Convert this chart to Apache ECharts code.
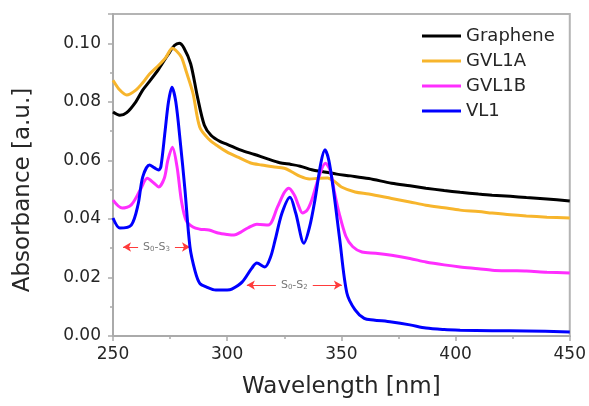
<!DOCTYPE html>
<html>
<head>
<meta charset="utf-8">
<script src="https://cdn.jsdelivr.net/npm/echarts@6/dist/echarts.min.js"></script>
<style>
  html, body { margin: 0; padding: 0; background: #fff; }
  #main { width: 589px; height: 406px; }
</style>
</head>
<body>
<div id="main"></div>
<script>
// 数据
const grapheneX = [250,253,256,260,263,266,270,274,277,279,281,284,287,290,293,297,300,306,312,318,323,328,332,337,342,348,354,362,372,380,387,395,402,410,416,424,431,440,450];
const grapheneY = [0.0765,0.0754,0.0763,0.0800,0.0840,0.0870,0.0912,0.0960,0.0993,0.1000,0.0985,0.0930,0.0816,0.0720,0.0685,0.0664,0.0655,0.0635,0.0620,0.0604,0.0592,0.0586,0.0580,0.0568,0.0561,0.0553,0.0547,0.0538,0.0522,0.0513,0.0505,0.0497,0.0491,0.0485,0.0481,0.0477,0.0473,0.0468,0.0461];

const gvl1aX = [250,253,256,260,263,266,270,273,276,278,280,282,285,288,292,296,300,305,310,315,320,325,328,332,336,340,344,347,350,356,362,372,380,387,395,402,410,416,424,431,440,450];
const gvl1aY = [0.0874,0.0840,0.0823,0.0840,0.0865,0.0895,0.0925,0.0950,0.0983,0.0972,0.0952,0.0905,0.0830,0.0713,0.0672,0.0648,0.0628,0.0610,0.0592,0.0584,0.0578,0.0573,0.0562,0.0545,0.0536,0.0539,0.0540,0.0528,0.0509,0.0492,0.0485,0.0470,0.0458,0.0447,0.0438,0.0430,0.0425,0.0420,0.0414,0.0410,0.0406,0.0403];

const gvl1bX = [250,254,258,262,265,268,270,272.5,274,276,278,280,282,285,288,292,296,300,303,306,309,313,318,322,325,327,329.5,331,333,335,337,340,343,345,347,349,352,355,359,365,372,380,387,395,402,410,416,424,431,440,450];
const gvl1bY = [0.0464,0.0437,0.0448,0.0500,0.0539,0.0522,0.0509,0.0540,0.0600,0.0645,0.0580,0.0460,0.0395,0.0372,0.0365,0.0362,0.0352,0.0347,0.0345,0.0355,0.0369,0.0382,0.0379,0.0440,0.0490,0.0505,0.0480,0.0450,0.0420,0.0430,0.0464,0.0540,0.0590,0.0567,0.0490,0.0420,0.0340,0.0305,0.0287,0.0283,0.0276,0.0265,0.0253,0.0243,0.0236,0.0230,0.0225,0.0223,0.0222,0.0218,0.0215];

const vl1X = [250,253,258,261,263,266,268,270,271,272.8,274.3,275.8,277.5,279.5,281.5,283.7,286,288,291,295,300,302,306.5,310.8,313,316.5,319,321,324,327.5,330,333.6,336,338.4,341,342.8,344.5,346.5,349.3,352.4,356,360,364,372,380,387,395,402,416,431,450];
const vl1Y = [0.0403,0.0369,0.0379,0.0450,0.0543,0.0584,0.0575,0.0567,0.0580,0.0700,0.0800,0.0850,0.0800,0.0660,0.0500,0.0304,0.0220,0.0180,0.0167,0.0157,0.0157,0.0160,0.0184,0.0232,0.0249,0.0236,0.0270,0.0328,0.0420,0.0474,0.0420,0.0317,0.0370,0.0464,0.0590,0.0636,0.0600,0.0500,0.0328,0.0147,0.0089,0.0060,0.0055,0.0048,0.0038,0.0027,0.0022,0.0020,0.0018,0.0017,0.0014];

const seriesNames = ['Graphene', 'GVL1A', 'GVL1B', 'VL1'];
const seriesColors = ['#000000', '#f7b52c', '#ff2eff', '#0000ff'];

// 跃迁标注：[起点, 终点], 高度
const bandS3 = [254.4, 283.7];
const bandS3Level = 0.0304;
const bandS2 = [308.6, 350.2];
const bandS2Level = 0.0174;

function pairs(xs, ys) {
  return xs.map((x, i) => [x, ys[i]]);
}

const allData = [
  pairs(grapheneX, grapheneY),
  pairs(gvl1aX, gvl1aY),
  pairs(gvl1bX, gvl1bY),
  pairs(vl1X, vl1Y)
];

const font = 'DejaVu Sans';

function bandLine(range, level, sub) {
  return [
    { coord: [range[0], level] },
    {
      coord: [range[1], level],
      label: {
        show: true,
        position: 'middle',
        distance: 0,
        verticalAlign: 'middle',
        formatter: 'S{s|0}-S{s|' + sub + '}',
        color: '#777',
        fontFamily: font,
        fontSize: 11,
        backgroundColor: '#fff',
        padding: [0, 5],
        rich: {
          s: { fontSize: 7, color: '#777', fontFamily: font, padding: [5, 0, 0, 0] }
        }
      }
    }
  ];
}

let myChart = echarts.init(document.getElementById('main'));

const series = allData.map((d, i) => ({
  name: seriesNames[i],
  type: 'line',
  data: d,
  showSymbol: false,
  smooth: 0.3,
  lineStyle: { width: 3, color: seriesColors[i] },
  itemStyle: { color: seriesColors[i] },
  z: 2 + i
}));

// 标注箭头挂在 VL1 上
series[3].markLine = {
  silent: true,
  symbol: ['arrow', 'arrow'],
  symbolSize: [7, 8],
  lineStyle: { color: '#ff3b3b', width: 1, type: 'solid' },
  data: [
    bandLine(bandS3, bandS3Level, '3'),
    bandLine(bandS2, bandS2Level, '2')
  ]
};

myChart.setOption({
  animation: false,
  grid: {
    left: 113,
    right: 19,
    top: 14,
    bottom: 70,
    show: true,
    borderColor: '#b4b4b4',
    borderWidth: 2
  },
  legend: {
    orient: 'vertical',
    left: 417,
    top: 22,
    itemWidth: 39,
    itemHeight: 3,
    itemGap: 7,
    icon: 'rect',
    data: seriesNames,
    textStyle: { fontFamily: font, fontSize: 18, color: '#262626', padding: [0, 0, 0, 0] }
  },
  xAxis: {
    type: 'value',
    min: 250,
    max: 450,
    interval: 50,
    name: 'Wavelength [nm]',
    nameLocation: 'middle',
    nameGap: 40,
    nameTextStyle: { fontFamily: font, fontSize: 23, color: '#262626' },
    axisLine: { lineStyle: { color: '#aaaaaa', width: 2 } },
    axisTick: { length: 5, lineStyle: { color: '#aaaaaa', width: 1.5 } },
    minorTick: { show: true, splitNumber: 2, length: 3, lineStyle: { color: '#aaaaaa', width: 1.5 } },
    axisLabel: { margin: 10, fontFamily: font, fontSize: 17, color: '#262626' },
    splitLine: { show: false }
  },
  yAxis: {
    type: 'value',
    min: 0,
    max: 0.11,
    interval: 0.02,
    name: 'Absorbance [a.u.]',
    nameLocation: 'middle',
    nameGap: 78,
    nameTextStyle: { fontFamily: font, fontSize: 23, color: '#262626', padding: [0, 30, 0, 0] },
    axisLine: { show: true, lineStyle: { color: '#aaaaaa', width: 2 } },
    axisTick: { show: true, length: 5, lineStyle: { color: '#aaaaaa', width: 1.5 } },
    minorTick: { show: true, splitNumber: 2, length: 3, lineStyle: { color: '#aaaaaa', width: 1.5 } },
    axisLabel: {
      margin: 12,
      fontFamily: font,
      fontSize: 17,
      color: '#262626',
      showMaxLabel: false,
      formatter: v => v.toFixed(2)
    },
    splitLine: { show: false }
  },
  series: series
});
</script>
</body>
</html>
